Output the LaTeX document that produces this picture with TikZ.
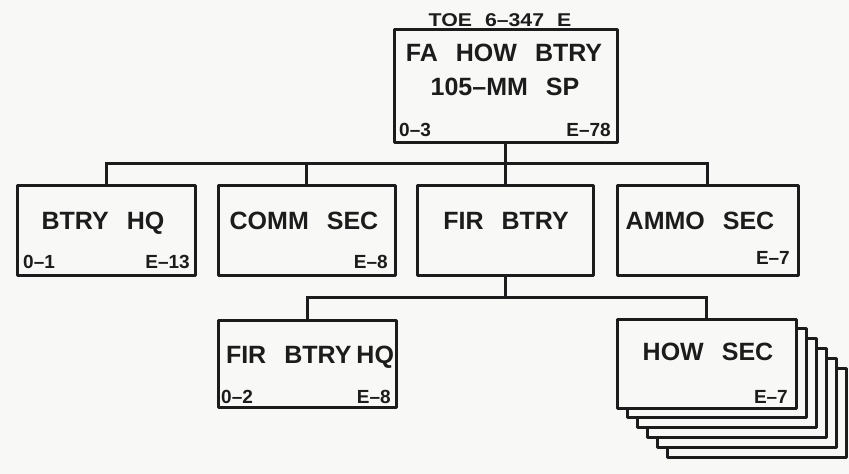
\documentclass[tikz,border=0pt]{standalone}
\usepackage{fontspec}
\setmainfont{Liberation Sans}[WordSpace=2.6]
\newfontfamily\ttlfont{Liberation Sans}[WordSpace=2.2,FakeStretch=1.15]
\definecolor{paper}{RGB}{248,248,246}
\definecolor{ink}{RGB}{28,28,28}
\begin{document}
\begin{tikzpicture}[x=1pt,y=-1pt,
  box/.style={draw=ink, line width=3pt, fill=paper, line join=round, inner sep=0pt},
  conn/.style={draw=ink, line width=3pt, line join=miter},
  big/.style={text=ink, font=\bfseries\fontsize{25}{30}\selectfont, inner sep=0pt, text height=17.9pt, text depth=0pt},
  lab/.style={text=ink, font=\bfseries\fontsize{19}{22}\selectfont, inner sep=0pt, text height=13.6pt, text depth=0pt},
  ttl/.style={text=ink, font=\ttlfont\bfseries\fontsize{18.5}{22}\selectfont, inner sep=0pt, text height=13.2pt, text depth=0pt}]
\fill[paper] (0,0) rectangle (849,474);
\useasboundingbox (0,0) rectangle (849,474);

% boxes
\node[box, minimum width=223pt, minimum height=113pt] (top) at (505.5,85.5) {};
\node[box, minimum width=178pt, minimum height=90pt] (btryhq) at (106,230) {};
\node[box, minimum width=177pt, minimum height=90pt] (comm) at (306.5,230) {};
\node[box, minimum width=176pt, minimum height=90pt] (firbtry) at (505,230) {};
\node[box, minimum width=181pt, minimum height=90pt] (ammo) at (707.5,230) {};
\node[box, minimum width=178pt, minimum height=87pt] (firhq) at (307,363.5) {};
\foreach \k in {5,4,3,2,1}{
  \node[box, minimum width=179pt, minimum height=89pt] (howsec\k) at (706.5+10*\k,363.5+9.8*\k) {};
}
\node[box, minimum width=179pt, minimum height=89pt] (howsec) at (706.5,363.5) {};

% bus coordinates
\coordinate (bus1) at (505,163);
\coordinate (bus2) at (505,297);

% connectors
\draw[conn] (top.south) -- (top.south |- bus1);
\draw[conn] (btryhq.north) |- (bus1) -| (ammo.north);
\draw[conn] (comm.north) -- (comm.north |- bus1);
\draw[conn] (firbtry.north) -- (firbtry.north |- bus1);
\draw[conn] (firbtry.south) -- (firbtry.south |- bus2);
\draw[conn] (firhq.north) |- (bus2) -| (howsec.north);

% texts
\node[ttl] (toe) at (500,20) {TOE 6–347 E};
\node[big] (t1) at (504,53) {FA HOW BTRY};
\node[big] (t2) at (505,87) {105–MM SP};
\node[lab, anchor=west] (t3) at (399,130) {0–3};
\node[lab, anchor=east] (t4) at (611,130) {E–78};

\node[big] (b1) at (103,221) {BTRY HQ};
\node[lab, anchor=west] (b2) at (23,262) {0–1};
\node[lab, anchor=east] (b3) at (190,262) {E–13};

\node[big] (c1) at (304,221) {COMM SEC};
\node[lab, anchor=east] (c2) at (388,262) {E–8};

\node[big] (f1) at (506,221) {FIR BTRY};

\node[big] (a1) at (700,221) {AMMO SEC};
\node[lab, anchor=east] (a2) at (790,258) {E–7};

\node[big] (h1) at (310,355) {FIR BTRY\hspace{5pt}HQ};
\node[lab, anchor=west] (h2) at (221,397) {0–2};
\node[lab, anchor=east] (h3) at (391,397) {E–8};

\node[big] (s1) at (708,352) {HOW SEC};
\node[lab, anchor=east] (s2) at (788,397) {E–7};
\end{tikzpicture}
\end{document}
